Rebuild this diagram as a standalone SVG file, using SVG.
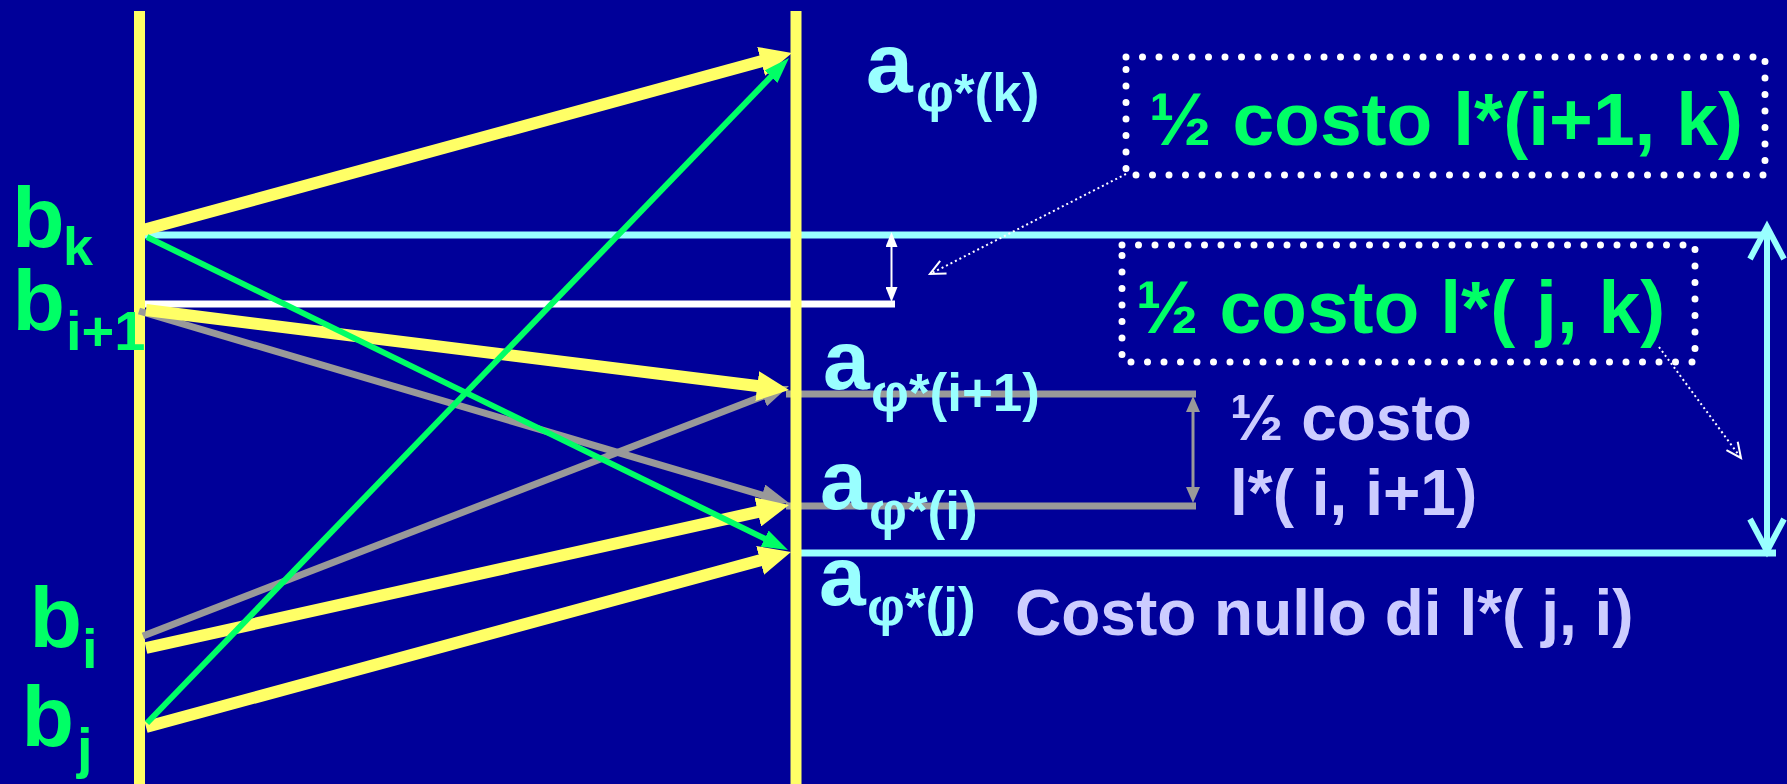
<svg xmlns="http://www.w3.org/2000/svg" width="1787" height="784" viewBox="0 0 1787 784">
<style>
.t{font-family:"Liberation Sans",Arial,sans-serif;font-weight:bold}
.g{fill:#00FF66}
.c{fill:#99FFFF}
.l{fill:#CCCCFF}
.big{font-size:86px}
.sub{font-size:56px}
.abig{font-size:84px}
.asub{font-size:53px}
.box{fill:none;stroke:#FFFFFF;stroke-width:7;stroke-dasharray:0 16.5;stroke-linecap:round}
.dot{fill:none;stroke:#FFFFFF;stroke-width:2;stroke-dasharray:2 3}
</style>
<defs>
<marker id="hy" markerUnits="userSpaceOnUse" markerWidth="32" markerHeight="30" viewBox="0 0 32 30" refX="6" refY="15" orient="auto"><path d="M0,0 L32,15 L0,30 z" fill="#FFFF66"/></marker>
<marker id="hg" markerUnits="userSpaceOnUse" markerWidth="26" markerHeight="18" viewBox="0 0 26 18" refX="6" refY="9" orient="auto"><path d="M0,0 L26,9 L0,18 z" fill="#00FF66"/></marker>
<marker id="hgr" markerUnits="userSpaceOnUse" markerWidth="28" markerHeight="22" viewBox="0 0 28 22" refX="6" refY="11" orient="auto"><path d="M0,0 L28,11 L0,22 z" fill="#999999"/></marker>
<marker id="sw" markerUnits="userSpaceOnUse" markerWidth="15" markerHeight="12" viewBox="0 0 15 12" refX="6" refY="6" orient="auto-start-reverse"><path d="M0,0 L15,6 L0,12 z" fill="#FFFFFF"/></marker>
<marker id="sg" markerUnits="userSpaceOnUse" markerWidth="16" markerHeight="14" viewBox="0 0 16 14" refX="6" refY="7" orient="auto-start-reverse"><path d="M0,0 L16,7 L0,14 z" fill="#999999"/></marker>
<marker id="ov" markerUnits="userSpaceOnUse" markerWidth="18" markerHeight="16" viewBox="0 0 18 16" refX="16" refY="8" orient="auto" overflow="visible"><path d="M1,1 L16,8 L1,15" fill="none" stroke="#FFFFFF" stroke-width="2"/></marker>
<marker id="cv" markerUnits="userSpaceOnUse" markerWidth="40" markerHeight="40" viewBox="0 0 40 40" refX="34" refY="20" orient="auto-start-reverse" overflow="visible"><path d="M2,3 L34,20 L2,37" fill="none" stroke="#99FFFF" stroke-width="6" stroke-linejoin="miter"/></marker>
</defs>
<rect x="0" y="0" width="1787" height="784" fill="#000099"/>

<g id="connectors">
  <line x1="141" y1="235" x2="1770" y2="235" stroke="#99FFFF" stroke-width="7"/>
  <line x1="143" y1="304" x2="895" y2="304" stroke="#FFFFFF" stroke-width="7"/>
  <line x1="786" y1="394" x2="1196" y2="394" stroke="#999999" stroke-width="7"/>
  <line x1="786" y1="506" x2="1196" y2="506" stroke="#999999" stroke-width="7"/>
  <line x1="800" y1="553" x2="1776" y2="553" stroke="#99FFFF" stroke-width="7"/>
  <line x1="139.5" y1="11" x2="139.5" y2="784" stroke="#FFFF66" stroke-width="11"/>
  <line x1="796" y1="11" x2="796" y2="784" stroke="#FFFF66" stroke-width="11"/>
  <line x1="891.5" y1="241" x2="891.5" y2="293" stroke="#FFFFFF" stroke-width="2" marker-start="url(#sw)" marker-end="url(#sw)"/>
  <line x1="1193" y1="406" x2="1193" y2="493" stroke="#999999" stroke-width="3" marker-start="url(#sg)" marker-end="url(#sg)"/>
  <line x1="1767" y1="227" x2="1767" y2="551" stroke="#99FFFF" stroke-width="6" marker-start="url(#cv)" marker-end="url(#cv)"/>
  <line x1="1126" y1="174" x2="930" y2="274" class="dot" marker-end="url(#ov)"/>
  <line x1="1659" y1="347" x2="1741" y2="458" class="dot" marker-end="url(#ov)"/>
  <line x1="139" y1="311" x2="767.9" y2="496.8" stroke="#999999" stroke-width="7" marker-end="url(#hgr)"/>
  <line x1="143" y1="636" x2="768.5" y2="393.9" stroke="#999999" stroke-width="7" marker-end="url(#hgr)"/>
  <line x1="143" y1="230" x2="766.9" y2="59.8" stroke="#FFFF66" stroke-width="12" marker-end="url(#hy)"/>
  <line x1="146" y1="310" x2="763.2" y2="386.8" stroke="#FFFF66" stroke-width="12" marker-end="url(#hy)"/>
  <line x1="146" y1="648" x2="763.6" y2="510.6" stroke="#FFFF66" stroke-width="12" marker-end="url(#hy)"/>
  <line x1="146" y1="727" x2="765.9" y2="558.8" stroke="#FFFF66" stroke-width="12" marker-end="url(#hy)"/>
  <line x1="147" y1="237" x2="770" y2="541.2" stroke="#00FF66" stroke-width="6" marker-end="url(#hg)"/>
  <line x1="147" y1="723" x2="775.1" y2="72.4" stroke="#00FF66" stroke-width="6" marker-end="url(#hg)"/>
</g>

<g id="b_k"><text class="t g big" x="12" y="247">b</text><text class="t g" style="font-size:54px" x="63" y="265">k</text></g>
<g id="b_i1"><text class="t g big" x="12.5" y="330">b</text><text class="t g sub" x="66" y="350">i+1</text></g>
<g id="b_i"><text class="t g big" x="29.5" y="647">b</text><text class="t g sub" x="82" y="668">i</text></g>
<g id="b_j"><text class="t g big" x="21.5" y="746">b</text><text class="t g sub" x="77" y="767">j</text></g>

<g id="a_k"><text class="t c abig" x="866" y="92">a</text><text class="t c asub" x="916" y="111">φ*(k)</text></g>
<g id="a_i1"><text class="t c abig" x="823" y="389">a</text><text class="t c asub" x="871" y="411">φ*(i+1)</text></g>
<g id="a_i"><text class="t c abig" x="820" y="509">a</text><text class="t c asub" x="869" y="529">φ*(i)</text></g>
<g id="a_j"><text class="t c abig" x="819" y="605">a</text><text class="t c asub" x="867" y="625">φ*(j)</text></g>

<g id="box_i1k"><rect class="box" x="1126" y="57" width="639" height="118"/><text class="t g" style="font-size:75px" x="1149" y="145">½ costo l*(i+1, k)</text></g>
<g id="box_jk"><rect class="box" x="1122" y="245" width="573" height="117"/><text class="t g" style="font-size:75px" x="1136" y="333">½ costo l*( j, k)</text></g>
<g id="cost_ii1"><text class="t l" style="font-size:64px" x="1230" y="440">½ costo</text><text class="t l" style="font-size:64px" x="1230" y="515">l*( i, i+1)</text></g>
<g id="cost_null"><text class="t l" style="font-size:64px" x="1015" y="635">Costo nullo di l*( j, i)</text></g>
</svg>
